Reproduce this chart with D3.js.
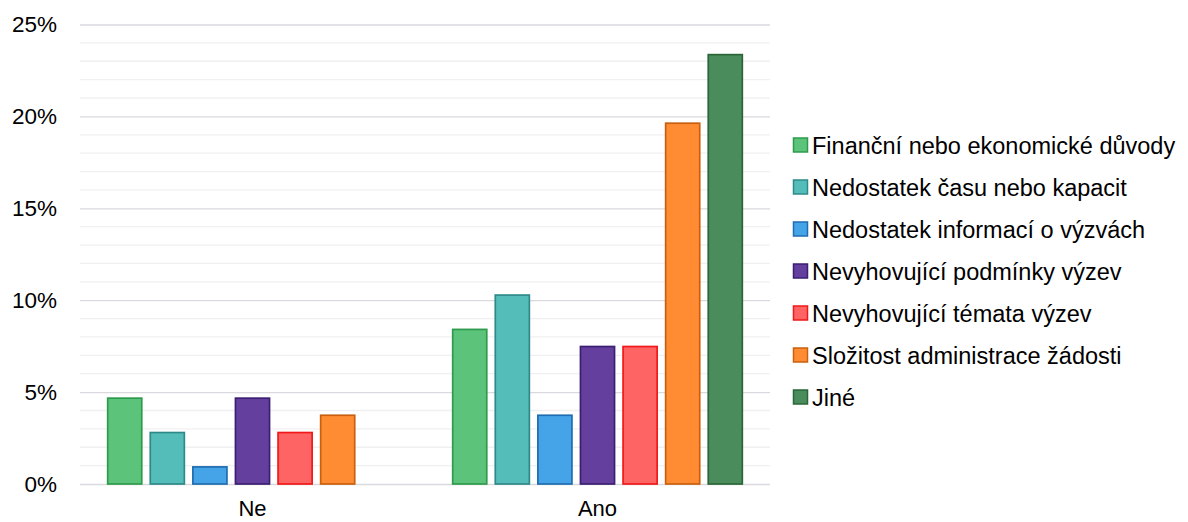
<!DOCTYPE html>
<html>
<head>
<meta charset="utf-8">
<script src="https://cdn.jsdelivr.net/npm/d3@7"></script>
<style>
  html, body { margin: 0; padding: 0; background: #fff; }
  svg { display: block; font-family: "Liberation Sans", Arial, sans-serif; }
</style>
</head>
<body>
<div id="chart"></div>
<script>
// data (share of respondents, %)
const categories = ['Ne', 'Ano'];
const seriesNames = [
  'Finanční nebo ekonomické důvody',
  'Nedostatek času nebo kapacit',
  'Nedostatek informací o výzvách',
  'Nevyhovující podmínky výzev',
  'Nevyhovující témata výzev',
  'Složitost administrace žádosti',
  'Jiné'
];
const valuesNe  = [4.67, 2.80, 0.93, 4.67, 2.80, 3.74, 0];
const valuesAno = [8.41, 10.28, 3.74, 7.48, 7.48, 19.63, 23.36];
const yTicks = [0, 5, 10, 15, 20, 25];

const fills   = ['#5bc47a', '#55bdb9', '#45a3e8', '#653f9e', '#ff6464', '#ff8c33', '#4b8c5c'];
const strokes = ['#2e9a4c', '#2e8a88', '#1f6db0', '#3b1f73', '#f01818', '#c9600f', '#2a6638'];

const width = 1188, height = 522;
const margin = { top: 24.5, right: 418, bottom: 38, left: 80 };
const W = width - margin.left - margin.right;
const H = height - margin.top - margin.bottom;

const rows = categories.map((c, i) => ({
  cat: c,
  vals: (i === 0 ? valuesNe : valuesAno).map((v, j) => ({ key: seriesNames[j], idx: j, v }))
}));

const svg = d3.select('#chart').append('svg')
    .attr('width', width)
    .attr('height', height)
  .append('g')
    .attr('transform', `translate(${margin.left},${margin.top})`);

const x0 = d3.scaleBand().domain(categories).range([0, W]);
const x1 = d3.scaleBand().domain(seriesNames)
  .range([0, x0.bandwidth()])
  .paddingInner(0.2)
  .paddingOuter(0.65);
const y = d3.scaleLinear().domain([0, 25]).range([H, 0]);

// minor gridlines every 1%
svg.append('g')
  .selectAll('line')
  .data(d3.range(0, 26).filter(d => d % 5 !== 0))
  .enter().append('line')
    .attr('x1', 0).attr('x2', W)
    .attr('y1', d => y(d)).attr('y2', d => y(d))
    .attr('stroke', '#f0f0f2')
    .attr('stroke-width', 1.3);

// major gridlines + labels
const yAxis = svg.append('g')
  .call(d3.axisLeft(y).tickValues(yTicks).tickSize(-W).tickFormat(d => d + '%'));
yAxis.select('.domain').remove();
yAxis.selectAll('.tick line')
  .attr('stroke', '#d9d9df')
  .attr('stroke-width', 1.3);
yAxis.selectAll('.tick text')
  .attr('x', -23)
  .attr('fill', '#000')
  .attr('font-size', 22.5)
  .attr('font-family', '"Liberation Sans", Arial, sans-serif');

// bars
svg.append('g')
  .selectAll('g')
  .data(rows)
  .enter().append('g')
    .attr('transform', d => `translate(${x0(d.cat)},0)`)
  .selectAll('rect')
  .data(d => d.vals.filter(v => v.v > 0))
  .enter().append('rect')
    .attr('x', d => x1(d.key))
    .attr('width', x1.bandwidth())
    .attr('y', d => y(d.v))
    .attr('height', d => y(0) - y(d.v))
    .attr('fill', d => fills[d.idx])
    .attr('stroke', d => strokes[d.idx])
    .attr('stroke-width', 1.7);

// category axis labels
const xAxis = svg.append('g')
  .attr('transform', `translate(0,${H})`)
  .call(d3.axisBottom(x0).tickSize(0));
xAxis.select('.domain').remove();
xAxis.selectAll('.tick text')
  .attr('dy', 0)
  .attr('y', 32)
  .attr('fill', '#000')
  .attr('font-size', 22)
  .attr('font-family', '"Liberation Sans", Arial, sans-serif');

// legend
const legend = svg.append('g')
  .attr('transform', `translate(${793 - margin.left},${145 - margin.top})`);
const item = legend.selectAll('g')
  .data(seriesNames)
  .enter().append('g')
    .attr('transform', (d, i) => `translate(0,${i * 42})`);
item.append('rect')
  .attr('x', 0.5).attr('y', -7)
  .attr('width', 14).attr('height', 14)
  .attr('fill', (d, i) => fills[i])
  .attr('stroke', (d, i) => strokes[i])
  .attr('stroke-width', 1.5);
item.append('text')
  .attr('x', 19)
  .attr('y', 8.5)
  .attr('font-size', 23.5)
  .attr('fill', '#000')
  .text(d => d);
</script>
</body>
</html>
